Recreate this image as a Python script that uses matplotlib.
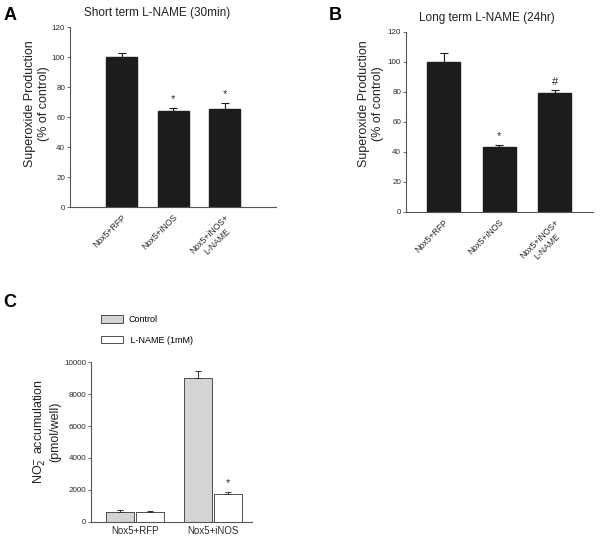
import matplotlib
matplotlib.use('Agg')
import matplotlib.pyplot as plt
from matplotlib.patches import Patch

plt.rcParams['font.family'] = ['Liberation Sans', 'DejaVu Sans']

# ---- data ------------------------------------------------------------------
a_labels = ['Nox5+RFP', 'Nox5+iNOS', 'Nox5+iNOS+\nL-NAME']
a_values = [100, 64, 65.5]
a_errors = [2.5, 2, 4]
a_marks = ['', '*', '*']

b_labels = ['Nox5+RFP', 'Nox5+iNOS', 'Nox5+iNOS+\nL-NAME']
b_values = [100, 43, 79]
b_errors = [6, 1.5, 2]
b_marks = ['', '*', '#']

c_groups = ['Nox5+RFP', 'Nox5+iNOS']
c_control = [650, 9000]
c_control_err = [80, 450]
c_lname = [620, 1750]
c_lname_err = [60, 100]
c_lname_marks = ['', '*']

BAR = '#1c1c1c'
SPINE = '#555555'
TXT = '#2a2a2a'


def style_axes(ax):
    for s in ['top', 'right']:
        ax.spines[s].set_visible(False)
    for s in ['left', 'bottom']:
        ax.spines[s].set_color(SPINE)
        ax.spines[s].set_linewidth(0.8)
    ax.tick_params(axis='y', length=2.5, width=0.6, color=SPINE,
                   labelsize=5.8, labelcolor=TXT, pad=1.2)
    ax.tick_params(axis='x', length=0, labelsize=6.2, labelcolor=TXT, pad=4)


def superoxide_panel(ax, labels, values, errors, marks, title, xlim,
                     title_x, label_xy):
    x = list(range(len(values)))
    ax.bar(x, values, width=0.6, color=BAR, edgecolor=BAR)
    ax.errorbar(x, values, yerr=[[0] * len(errors), errors], fmt='none',
                ecolor=BAR, elinewidth=0.8, capsize=3, capthick=0.8)
    for xi, v, e, m in zip(x, values, errors, marks):
        if m:
            ax.text(xi, v + e + 2.5, m, ha='center', va='bottom',
                    fontsize=8, color=TXT)
    ax.set_xlim(*xlim)
    ax.set_ylim(0, 120)
    ax.set_yticks(range(0, 121, 20))
    ax.set_xticks(x)
    ax.set_xticklabels(labels, rotation=45, ha='right',
                       rotation_mode='anchor', multialignment='center')
    ax.set_ylabel('Superoxide Production\n(% of control)', fontsize=9,
                  color='#222222')
    ax.yaxis.set_label_coords(*label_xy)
    ax.set_title(title, fontsize=8.5, x=title_x, pad=8, color='#222222')
    style_axes(ax)


fig = plt.figure(figsize=(6, 5.42), dpi=100)

# ---- panel A ---------------------------------------------------------------
axA = fig.add_axes([0.117, 0.618, 0.343, 0.332])
superoxide_panel(axA, a_labels, a_values, a_errors, a_marks,
                 'Short term L-NAME (30min)', (-1, 3), 0.42, (-0.10, 0.572))
fig.text(0.006, 0.988, 'A', fontsize=13, fontweight='bold', va='top')

# ---- panel B ---------------------------------------------------------------
axB = fig.add_axes([0.677, 0.609, 0.311, 0.332])
superoxide_panel(axB, b_labels, b_values, b_errors, b_marks,
                 'Long term L-NAME (24hr)', (-0.68, 2.69), 0.43,
                 (-0.12, 0.60))
fig.text(0.548, 0.988, 'B', fontsize=13, fontweight='bold', va='top')

# ---- panel C ---------------------------------------------------------------
axC = fig.add_axes([0.152, 0.037, 0.268, 0.295])
gx = list(range(len(c_groups)))
off = 0.19
w = 0.36
xc = [g - off for g in gx]
xl = [g + off for g in gx]
axC.bar(xc, c_control, width=w, color='#d4d4d4', edgecolor='#333333',
        linewidth=0.6, label='Control')
axC.bar(xl, c_lname, width=w, color='white', edgecolor='#333333',
        linewidth=0.6, label='L-NAME (1mM)')
axC.errorbar(xc, c_control, yerr=[[0] * 2, c_control_err], fmt='none',
             ecolor='#333333', elinewidth=0.7, capsize=2.5, capthick=0.7)
axC.errorbar(xl, c_lname, yerr=[[0] * 2, c_lname_err], fmt='none',
             ecolor='#333333', elinewidth=0.7, capsize=2.5, capthick=0.7)
for xi, v, e, m in zip(xl, c_lname, c_lname_err, c_lname_marks):
    if m:
        axC.text(xi, v + e + 250, m, ha='center', va='bottom',
                 fontsize=8, color=TXT)
axC.set_xlim(-0.56, 1.5)
axC.set_ylim(0, 10000)
axC.set_yticks(range(0, 10001, 2000))
axC.set_xticks(gx)
axC.set_xticklabels(c_groups)
axC.set_ylabel('NO$_2^{-}$ accumulation\n(pmol/well)', fontsize=9,
               color='#222222')
axC.yaxis.set_label_coords(-0.185, 0.5625)
style_axes(axC)
axC.tick_params(axis='x', labelsize=7, pad=3)

handles = [Patch(facecolor='#d4d4d4', edgecolor='#333333', linewidth=0.6,
                 label='Control'),
           Patch(facecolor='white', edgecolor='#333333', linewidth=0.6,
                 label=' L-NAME (1mM)')]
fig.legend(handles=handles, loc='upper left',
           bbox_to_anchor=(0.163, 0.425), frameon=False, fontsize=6.5,
           handlelength=2.4, handleheight=0.9, labelspacing=1.25,
           handletextpad=0.6, borderaxespad=0)
fig.text(0.006, 0.458, 'C', fontsize=13, fontweight='bold', va='top')

fig.savefig('out.png', dpi=100, facecolor='white')
